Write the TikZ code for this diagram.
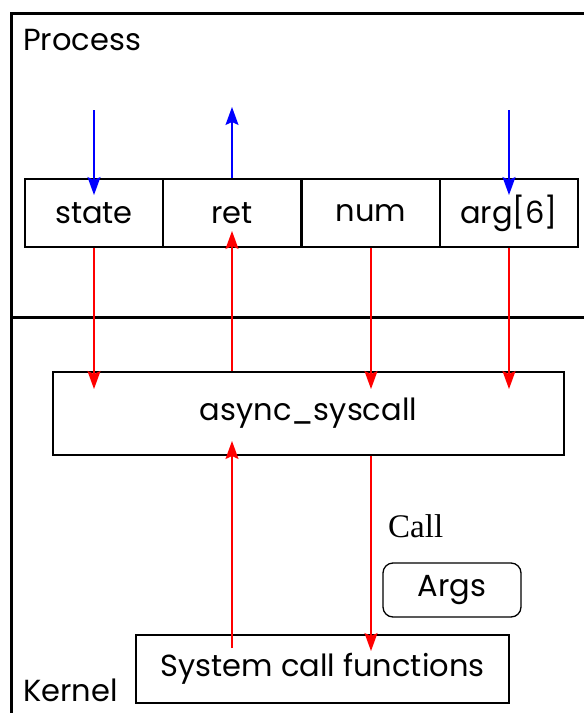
\documentclass[tikz,border=0pt]{standalone}
\usepackage{fontspec}
\setsansfont{Poppins}
\newfontfamily\callfont{Liberation Serif}
\usetikzlibrary{arrows.meta}
\begin{document}
\begin{tikzpicture}[x=1pt,y=-1pt,
  lbl/.style={font=\sffamily\fontsize{30.5}{36}\selectfont},
  reg/.style={draw, line width=1.3pt, minimum width=138pt, minimum height=68pt, inner sep=0pt, lbl},
  blu/.style={blue, line width=1.3pt, -{Stealth[length=18pt,width=13pt,inset=3pt]}},
  rd/.style={red, line width=1.3pt, -{Stealth[length=18pt,width=13pt,inset=3pt]}},
  frame/.style={line width=3pt}]
\useasboundingbox (0,0) rectangle (584,713);
\draw[frame] (11,740) -- (11,13) -- (600,13);
\draw[frame] (11,317) -- (600,317);
\node[lbl, anchor=west, inner sep=0pt] (proc) at (23,40) {Process};
\node[lbl, anchor=west, inner sep=0pt] (kern) at (23,690) {Kernel};
\node[reg] (st) at (94,213) {state};
\node[reg] (rt) at (232,213) {ret};
\node[reg] (nm) at (371,213) {num};
\node[reg] (ag) at (509,213) {arg[6]};
\node[draw, line width=1.3pt, minimum width=511pt, minimum height=83pt, inner sep=0pt, lbl] (as) at (308.5,413.5) {async\_syscall};
\node[draw, line width=2pt, minimum width=373pt, minimum height=68pt, inner sep=0pt, lbl] (sc) at (322.5,669) {System call functions};
\node[draw, line width=1.3pt, rounded corners=10pt, minimum width=138pt, minimum height=54pt, inner sep=0pt, lbl] (args) at (452,590) {Args};
\node[font=\callfont\fontsize{33}{38}\selectfont, anchor=west, inner sep=0pt] (call) at (388,526) {Call};
% coordinates
\coordinate (b1s) at (94,110);
\coordinate (b1e) at (94,195);
\coordinate (b2e) at (232,107);
\coordinate (b3s) at (509,110);
\coordinate (b3e) at (509,195);
\coordinate (r1e) at (94,389);
\coordinate (r2e) at (232,231);
\coordinate (r3e) at (371,389);
\coordinate (r4e) at (509,389);
\coordinate (u1s) at (232,648);
\coordinate (u1e) at (232,441);
\coordinate (d1e) at (371,651);
% blue
\draw[blu] (b1s) -- (b1e);
\draw[blu] (rt.north) -- (b2e);
\draw[blu] (b3s) -- (b3e);
% red
\draw[rd] (st.south) -- (r1e);
\draw[rd] (as.north -| rt) -- (r2e);
\draw[rd] (nm.south) -- (r3e);
\draw[rd] (ag.south) -- (r4e);
\draw[rd] (u1s) -- (u1e);
\draw[rd] (as.south -| nm) -- (d1e);
\end{tikzpicture}
\end{document}
